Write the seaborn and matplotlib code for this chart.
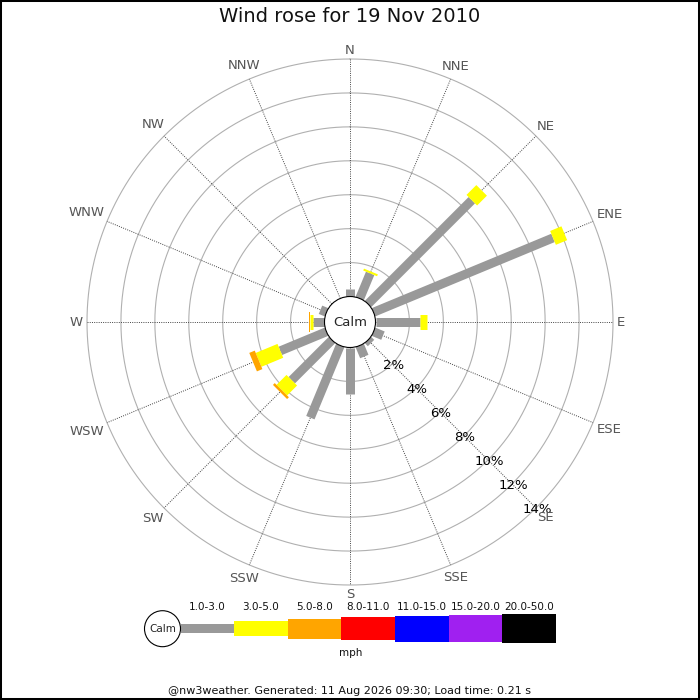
import numpy as np
import pandas as pd
import matplotlib
matplotlib.use("Agg")
import matplotlib.pyplot as plt
import seaborn as sns
from matplotlib.patches import Circle, Rectangle

# ---------------- data ----------------
directions = ["N", "NNE", "NE", "ENE", "E", "ESE", "SE", "SSE",
              "S", "SSW", "SW", "WSW", "W", "WNW", "NW", "NNW"]
speed_bins = ["1.0-3.0", "3.0-5.0", "5.0-8.0", "8.0-11.0",
              "11.0-15.0", "15.0-20.0", "20.0-50.0"]
pct_1_3 = [0.47, 1.60, 8.65, 11.45, 2.65, 0.60, 0.25, 0.70,
           2.72, 4.60, 3.35, 2.94, 0.70, 0.38, 0.00, 0.00]
pct_3_5 = [0.00, 0.12, 0.82, 0.72, 0.38, 0.00, 0.00, 0.00,
           0.00, 0.00, 0.83, 1.39, 0.14, 0.00, 0.00, 0.00]
pct_5_8 = [0.00, 0.00, 0.00, 0.00, 0.00, 0.00, 0.00, 0.00,
           0.00, 0.00, 0.15, 0.35, 0.10, 0.00, 0.00, 0.00]
ring_ticks = [2, 4, 6, 8, 10, 12, 14]
title = "Wind rose for 19 Nov 2010"
footer = "@nw3weather. Generated: 11 Aug 2026 09:30; Load time: 0.21 s"
unit_label = "mph"

# ---------------- style ----------------
bin_colors = ["#999999", "#ffff00", "#ffa500", "#ff0000",
              "#0000ff", "#a020f0", "#000000"]
bin_widths_px = [9, 15, 20, 23, 26, 27, 29]

sns.set_theme(style="white")
plt.rcParams["font.family"] = ["DejaVu Sans"]

df = pd.DataFrame({"direction": directions,
                   speed_bins[0]: pct_1_3,
                   speed_bins[1]: pct_3_5,
                   speed_bins[2]: pct_5_8})
long = df.melt(id_vars="direction", var_name="speed", value_name="pct")

W = H = 700
DPI = 100
CX, CY = 350, 322          # centre in pixels (from top)
R_OUT = 263
R_CALM = 25.5
PX_PER_PCT = (R_OUT - R_CALM) / max(ring_ticks)
calm_off = R_CALM / PX_PER_PCT
rmax = calm_off + max(ring_ticks)

fig = plt.figure(figsize=(W / DPI, H / DPI), dpi=DPI, facecolor="white")
ax = fig.add_axes([(CX - R_OUT) / W, (H - CY - R_OUT) / H,
                   2 * R_OUT / W, 2 * R_OUT / H], projection="polar")
ax.set_theta_zero_location("N")
ax.set_theta_direction(-1)
ax.set_ylim(0, rmax)
ax.axis("off")

theta_dir = {d: np.deg2rad(i * 22.5) for i, d in enumerate(directions)}

# rings
th = np.linspace(0, 2 * np.pi, 721)
for p in ring_ticks:
    ax.plot(th, np.full_like(th, calm_off + p), color="#b0b0b0", lw=0.8,
            clip_on=False, zorder=1)
# spokes
for d in directions:
    t = theta_dir[d]
    ax.plot([t, t], [calm_off, rmax], color="#444444", lw=0.7,
            ls=(0, (1, 1.3)), clip_on=False, zorder=1)

# stacked bars (constant pixel width -> thick butt-capped radial lines)
for d in directions:
    t = theta_dir[d]
    base = calm_off
    sub = long[long["direction"] == d]
    for k, sp in enumerate(speed_bins[:3]):
        v = float(sub.loc[sub["speed"] == sp, "pct"].iloc[0])
        if v <= 0:
            continue
        ax.plot([t, t], [base, base + v], color=bin_colors[k],
                lw=bin_widths_px[k] * 72 / DPI, solid_capstyle="butt",
                zorder=3 + k)
        base += v

# percent labels along SE
for p in ring_ticks:
    ax.text(np.deg2rad(135), calm_off + p + 1.5 / PX_PER_PCT, f"{p}%",
            ha="center", va="center", fontsize=9.5, color="black", zorder=10)

# direction labels
renderer = fig.canvas.get_renderer()
for d in directions:
    t = theta_dir[d]
    txt = ax.text(t, rmax, d, ha="center", va="center", fontsize=9.5,
                  color="#555555", zorder=10)
    bb = txt.get_window_extent(renderer=renderer)
    hw = bb.width / 2
    hh = 5.0
    r_px = 267 + hw * abs(np.sin(t)) + hh * abs(np.cos(t))
    txt.set_position((t, r_px / PX_PER_PCT))
    txt.set_clip_on(False)

# ---------------- overlay (pixel coordinates) ----------------
ov = fig.add_axes([0, 0, 1, 1], facecolor="none")
ov.set_xlim(0, W)
ov.set_ylim(H, 0)
ov.axis("off")

ov.add_patch(Circle((CX, CY), R_CALM, fc="white", ec="black", lw=0.8, zorder=5))
ov.text(CX, CY, "Calm", ha="center", va="center", fontsize=9.5, zorder=6)

ov.text(W / 2, 17, title, ha="center", va="center", fontsize=14, color="#111111")

# legend strip
leg_x0, seg_w, leg_y = 180.5, 53.6, 628.5
centers = leg_x0 + seg_w * (np.arange(len(speed_bins)) + 0.5)
heights = np.array(bin_widths_px, dtype=float)
ov.bar(centers, heights, width=seg_w, bottom=leg_y - heights / 2,
       color=bin_colors, linewidth=0, zorder=2)
for cx_, lab in zip(centers, speed_bins):
    ov.text(cx_, 606.7, lab, ha="center", va="center", fontsize=7.5, color="#111111")
ov.add_patch(Circle((162.5, 628.7), 18, fc="white", ec="black", lw=0.8, zorder=3))
ov.text(162.5, 629, "Calm", ha="center", va="center", fontsize=7.5, zorder=4)
ov.text(350.7, 653, unit_label, ha="center", va="center", fontsize=7.5, color="#111111")

ov.text(W / 2, 691, footer, ha="center", va="center", fontsize=8, color="#111111")

ov.add_patch(Rectangle((0, 0), W, H, fill=False, ec="black", lw=2.9, clip_on=False))

fig.savefig("out.png", dpi=DPI, facecolor="white")
